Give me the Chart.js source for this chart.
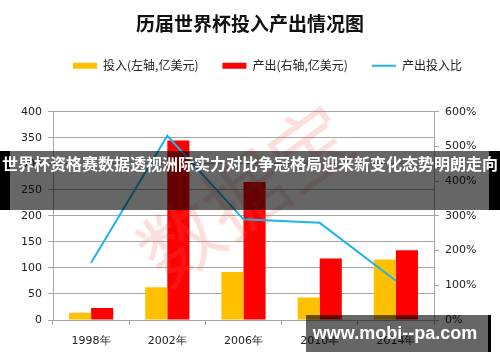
<!DOCTYPE html>
<html>
<head>
<meta charset="utf-8">
<script src="https://cdn.jsdelivr.net/npm/chart.js@4/dist/chart.umd.min.js"></script>
<style>
    html, body { margin: 0; padding: 0; background: #fff; }
    #wrap { position: relative; width: 500px; height: 362px; overflow: hidden; }
    #wrap canvas { position: absolute; left: 0; top: 0; }
    .mark {
        position: absolute; left: 122px; top: 132px;
        font: 80px "Noto Sans CJK SC", sans-serif;
        color: rgba(235, 90, 90, 0.2);
        transform: rotate(-36deg); white-space: nowrap;
    }
    .banner {
        position: absolute; left: 0; top: 151px; width: 500px; height: 59px;
        background: rgba(0, 0, 0, 0.6);
        border-left: 10px solid #000; border-right: 11px solid #000; box-sizing: border-box;
    }
    .banner span {
        position: absolute; left: -10px; width: 500px; top: 0; line-height: 59px; text-align: center;
        color: #fff; font: bold 16px "Noto Sans CJK SC", sans-serif; white-space: nowrap;
    }
    .site {
        position: absolute; left: 306px; top: 315px; width: 185px; height: 37px;
        background: rgba(0, 0, 0, 0.6); border-right: 3px solid #000; box-sizing: border-box;
        color: #fff; font: bold 18px "Liberation Sans", sans-serif;
        line-height: 37px; text-align: center; padding-right: 4px;
    }
</style>
</head>
<body>
<div id="wrap">
    <canvas id="chart" width="500" height="362"></canvas>
    <div class="mark">数据宝</div>
    <div class="banner"><span>世界杯资格赛数据透视洲际实力对比争冠格局迎来新变化态势明朗走向</span></div>
    <div class="site">www.mobi--pa.com</div>
</div>
<script>
let years = ['1998年', '2002年', '2006年', '2010年', '2014年']
let inputVals = [14, 63, 92, 43, 116]      // 投入, 亿美元
let outputVals = [23, 345, 265, 118, 134]  // 产出, 亿美元
let ratioVals = [165, 531, 290, 280, 113]  // 产出投入比, %
let leftTicks = [0, 400, 50]
let rightTicks = [0, 600, 100]

let gridGray = '#a6a6a6'
let tickFont = { family: 'DejaVu Sans', size: 11 }

// push the chart area down under the legend and nudge the legend right
let layoutFix = {
    id: 'layoutFix',
    beforeInit(chart) {
        let legend = chart.legend
        let fit = legend.fit
        legend.fit = function () {
            fit.call(legend)
            if (this.isHorizontal()) this.height += 30
        }
    },
    afterLayout(chart) {
        let lg = chart.legend
        let pad = lg.options.labels.padding
        let x0 = (lg.left + pad + lg.right - lg.lineWidths[0]) / 2
        let shift = 73 - x0
        lg.left += shift
        lg.right += shift
    }
}

new Chart(document.getElementById('chart'), {
    type: 'bar',
    data: {
        labels: years,
        datasets: [{
            label: '投入(左轴,亿美元)',
            data: inputVals,
            backgroundColor: '#ffc000',
            pointStyle: 'rect',
            yAxisID: 'y',
            order: 2
        }, {
            label: '产出(右轴,亿美元)',
            data: outputVals,
            backgroundColor: '#ff0000',
            pointStyle: 'rect',
            yAxisID: 'y',
            order: 3
        }, {
            type: 'line',
            label: '产出投入比',
            data: ratioVals,
            borderColor: '#1fb5ec',
            backgroundColor: '#1fb5ec',
            borderWidth: 2,
            pointRadius: 0,
            pointStyle: 'line',
            tension: 0,
            yAxisID: 'y1',
            order: 1
        }]
    },
    options: {
        responsive: false,
        animation: false,
        layout: { padding: 0 },
        datasets: {
            bar: { categoryPercentage: 0.58, barPercentage: 1 }
        },
        scales: {
            x: {
                grid: { offset: true, drawOnChartArea: false, color: gridGray, tickLength: 5 },
                border: { color: gridGray },
                ticks: { font: tickFont, color: '#222', padding: 10, maxRotation: 0 },
                afterFit: s => { s.height = 42 }
            },
            y: {
                position: 'left',
                min: leftTicks[0], max: leftTicks[1],
                ticks: { stepSize: leftTicks[2], font: tickFont, color: '#222', padding: 6 },
                grid: { color: gridGray, tickLength: 5 },
                border: { color: gridGray },
                afterFit: s => { s.width = 53 }
            },
            y1: {
                position: 'right',
                min: rightTicks[0], max: rightTicks[1],
                ticks: { stepSize: rightTicks[2], font: tickFont, color: '#222', padding: 6,
                    callback: v => v + '%' },
                grid: { drawOnChartArea: false, color: gridGray, tickLength: 5 },
                border: { color: gridGray },
                afterFit: s => { s.width = 66 }
            }
        },
        plugins: {
            title: {
                display: true,
                text: '历届世界杯投入产出情况图',
                color: '#111',
                font: { family: 'Noto Sans CJK SC', size: 19, weight: 'bold' },
                padding: { top: 12, bottom: 1 }
            },
            legend: {
                display: true,
                position: 'top',
                labels: {
                    usePointStyle: true,
                    pointStyleWidth: 24,
                    boxHeight: 6,
                    padding: 24,
                    color: '#222',
                    font: { family: 'Noto Sans CJK SC', size: 12 },
                    sort: (a, b) => a.datasetIndex - b.datasetIndex
                }
            },
            tooltip: { enabled: false }
        }
    },
    plugins: [layoutFix]
})
</script>
</body>
</html>
